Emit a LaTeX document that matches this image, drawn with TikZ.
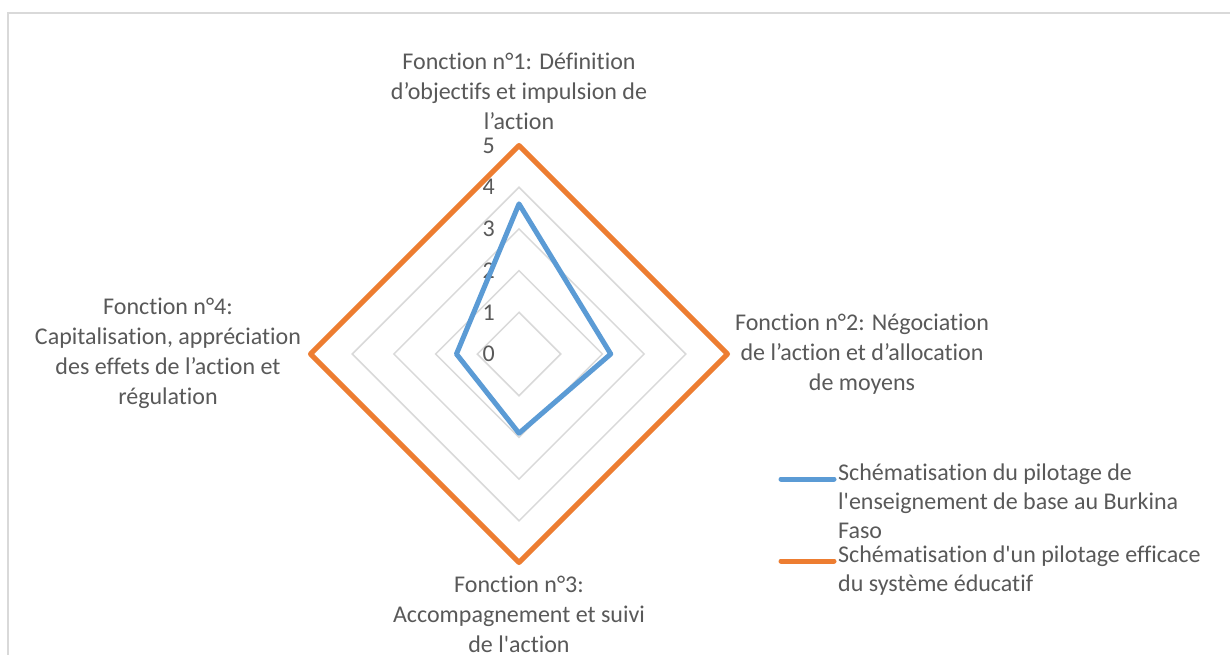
\documentclass[tikz,border=0pt]{standalone}
\usepackage{fontspec}
\setmainfont{Carlito}[Ligatures={NoCommon}]
\definecolor{txt}{HTML}{595959}
\definecolor{gridc}{HTML}{D9D9D9}
\definecolor{ser1}{HTML}{5B9BD5}
\definecolor{ser2}{HTML}{ED7D31}
\newcommand{\ap}{\textquotesingle}
\begin{document}
\begin{tikzpicture}[x=1pt,y=-1pt,
  lbl/.style={text=txt,font=\fontsize{24}{30}\selectfont,align=center,inner sep=0pt},
  tick/.style={text=txt,font=\fontsize{24}{27}\selectfont,anchor=east,inner sep=0pt},
  leg/.style={text=txt,font=\fontsize{24}{29}\selectfont,align=left,anchor=north west,inner sep=0pt},
  gridline/.style={draw=gridc,line width=1.5pt},
  series/.style={line width=5pt,line join=round,line cap=round}]
\useasboundingbox (0,0) rectangle (1230,655);
\fill[white] (0,0) rectangle (1230,655);
\draw[gridc,line width=1.2pt] (8,660) -- (8,13) -- (1235,13);
\coordinate (C) at (519,354);
\def\u{41.7}
% grid
\foreach \k in {1,...,4}{
  \pgfmathsetmacro{\r}{\k*\u}
  \draw[gridline] (519,354-\r) -- (519+\r,354) -- (519,354+\r) -- (519-\r,354) -- cycle;
}
% tick labels
\foreach \k in {0,...,5}{
  \pgfmathsetmacro{\r}{\k*\u}
  \node[tick] (t\k) at (495,354-\r) {\k};
}
% series 2 (orange)
\pgfmathsetmacro{\R}{5*\u}
\draw[series,ser2] (519,354-\R) -- (519+\R,354) -- (519,354+\R) -- (519-\R,354) -- cycle;
% series 1 (blue)
\draw[series,ser1] (519,354-3.6*\u) -- (519+2.2*\u,354) -- (519,354+1.9*\u) -- (519-1.5*\u,354) -- cycle;
% axis labels
\node[lbl] (f1) at (519,91) {Fonction n°1: Définition\\d’objectifs et impulsion de\\l’action};
\node[lbl] (f2) at (862,354) {Fonction n°2: Négociation\\de l’action et d’allocation\\de moyens};
\node[lbl] (f3) at (519,614) {Fonction n°3:\\Accompagnement et suivi\\de l\ap action};
\node[lbl] (f4) at (168,353) {Fonction n°4:\\Capitalisation, appréciation\\des effets de l’action et\\régulation};
% legend
\coordinate (l1a) at (781,479);
\coordinate (l1b) at (834,479);
\coordinate (l2a) at (781,561);
\coordinate (l2b) at (834,561);
\draw[series,ser1] (l1a) -- (l1b);
\draw[series,ser2] (l2a) -- (l2b);
\node[leg] (leg1) at (838,464) {Schématisation du pilotage de\\l\ap enseignement de base au Burkina\\Faso};
\node[leg] (leg2) at (838,546) {Schématisation d\ap un pilotage efficace\\du système éducatif};
\end{tikzpicture}
\end{document}
